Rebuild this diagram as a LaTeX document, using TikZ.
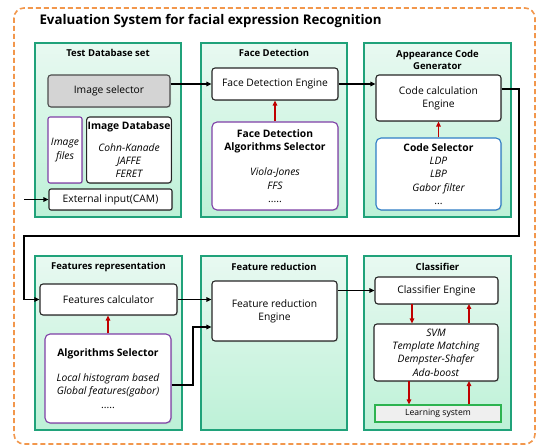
\documentclass[tikz,border=0pt]{standalone}
\usepackage{fontspec}
\setmainfont{Open Sans}
\usetikzlibrary{arrows.meta,shadows,calc}
\definecolor{panelborder}{HTML}{20A27A}
\definecolor{paneltop}{HTML}{E8F9F1}
\definecolor{panelbot}{HTML}{BDF1D7}
\definecolor{outerdash}{HTML}{F2974C}
\definecolor{selgray}{HTML}{D4D4D4}
\definecolor{violet}{HTML}{7E3FA6}
\definecolor{codeblue}{HTML}{2E7DC6}
\definecolor{arrowred}{HTML}{C00000}
\definecolor{lsgreen}{HTML}{2DB350}
\definecolor{lsfill}{HTML}{EFEFEF}
\tikzset{
  panel/.style={draw=panelborder, line width=1.4pt, top color=paneltop, bottom color=panelbot,
    drop shadow={shadow xshift=1.2pt, shadow yshift=-1.2pt, opacity=0.25}},
  paneltitle/.style={font=\fontsize{9.5}{11.5}\selectfont\bfseries, align=center},
  box/.style={draw=black!85, line width=1.1pt, fill=white, rounded corners=3pt, align=center,
    font=\fontsize{10.3}{13.3}\selectfont,
    drop shadow={shadow xshift=1pt, shadow yshift=-1pt, opacity=0.25}},
  graybox/.style={box, fill=selgray, draw=black!70},
  violetbox/.style={box, draw=violet, rounded corners=5pt},
  bluebox/.style={box, draw=codeblue, rounded corners=5pt},
  lsbox/.style={draw=lsgreen, line width=1.1pt, fill=lsfill, font=\fontsize{8.6}{10}\selectfont},
  flow/.style={line width=1.2pt, -{Triangle[length=5pt,width=4.5pt]}},
  redflow/.style={line width=1.3pt, draw=arrowred, -{Triangle[length=5pt,width=4.5pt]}, arrowred},
}
\begin{document}
\begin{tikzpicture}[x=1pt, y=-1pt]
\useasboundingbox (0,0) rectangle (538,446);
% outer frame and heading
\draw[outerdash, line width=1.6pt, dash pattern=on 5pt off 3pt, rounded corners=10pt] (14,8) rectangle (535,444);
\node[anchor=west, font=\fontsize{13.3}{15}\selectfont\bfseries] (heading) at (36,21) {Evaluation System for facial expression Recognition};

% panels
\node[panel, minimum width=146pt, minimum height=174pt] (p1) at (108,130) {};
\node[panel, minimum width=146pt, minimum height=174pt] (p2) at (274,130) {};
\node[panel, minimum width=147pt, minimum height=174pt] (p3) at (437.5,130) {};
\node[panel, minimum width=147pt, minimum height=174pt] (p4) at (108.5,343) {};
\node[panel, minimum width=146pt, minimum height=174pt] (p5) at (274,343) {};
\node[panel, minimum width=147pt, minimum height=174pt] (p6) at (437.5,343) {};

\node[paneltitle] (t1) at (108,53) {Test Database set};
\node[paneltitle] (t2) at (274,53) {Face Detection};
\node[paneltitle] (t3) at (437.5,60) {Appearance Code\\Generator};
\node[paneltitle] (t4) at (108.5,267) {Features representation};
\node[paneltitle] (t5) at (274,267) {Feature reduction};
\node[paneltitle] (t6) at (437.5,267) {Classifier};

% test database set
\node[graybox, minimum width=122pt, minimum height=32pt] (imgsel) at (109,91) {Image selector};
\node[violetbox, rounded corners=2pt, minimum width=34pt, minimum height=66pt, inner sep=1pt] (imgfiles) at (65,150) {\itshape Image\\ \itshape files};
\node[box, minimum width=82pt, minimum height=66pt, inner sep=1pt] (imgdb) at (129,150)
  {\textbf{Image Database}\\[8pt] \itshape Cohn-Kanade\\ \itshape JAFFE\\ \itshape FERET};
\node[box, rounded corners=2pt, minimum width=123pt, minimum height=21pt] (cam) at (110.5,199.5) {External input(CAM)};
\coordinate (camin) at (24,199.5);

% face detection
\node[box, minimum width=126pt, minimum height=32pt] (fde) at (275,84) {Face Detection Engine};
\node[violetbox, minimum width=126pt, minimum height=88pt] (fdsel) at (275,166)
  {\textbf{Face Detection}\\ \textbf{Algorithms Selector}\\[12pt] \itshape Viola-Jones\\ \itshape FFS\\ .....};

% appearance code generator
\node[box, minimum width=125pt, minimum height=46pt] (cce) at (438.5,98) {Code calculation\\Engine};
\node[bluebox, minimum width=125pt, minimum height=72pt, inner sep=1pt] (csel) at (438.5,174)
  {\textbf{Code Selector}\\ \itshape LDP\\ \itshape LBP\\ \itshape Gabor filter\\ ...};

% features representation
\node[box, minimum width=137pt, minimum height=31pt] (fcalc) at (108.5,299.5) {Features calculator};
\node[violetbox, minimum width=126pt, minimum height=89pt] (asel) at (108,378.5)
  {\textbf{Algorithms Selector}\\[12pt] \itshape Local histogram based\\ \itshape Global features(gabor)\\ .....};

% feature reduction
\node[box, minimum width=125pt, minimum height=60pt] (fre) at (274.5,311) {Feature reduction\\Engine};

% classifier
\node[box, minimum width=123pt, minimum height=27pt] (ce) at (436.5,290.5) {Classifier Engine};
\node[box, minimum width=124pt, minimum height=57pt] (svm) at (436,352.5)
  {\itshape SVM\\ \itshape Template Matching\\ \itshape Dempster-Shafer\\ \itshape Ada-boost};
\node[lsbox, minimum width=126pt, minimum height=17pt] (ls) at (438,413.5) {Learning system};

% black data flow
\draw[flow] (camin) -- (cam.west);
\draw[flow] (fde.west -| imgsel.east) -- (fde.west);
\draw[flow] (fde.east) -- (fde.east -| cce.west);
\coordinate (ccout) at ($(cce.east)+(0,-9)$);
\coordinate (rtop) at (519,89);
\coordinate (rbot) at (519,236);
\coordinate (lbot) at (24,236);
\draw[flow] (ccout) -- (rtop) -- (rbot) -- (lbot) |- (fcalc.west);
\draw[flow] (fcalc.east) -- (fcalc.east -| fre.west);
\coordinate (aout) at ($(asel.east)+(0,6.5)$);
\coordinate (ajoin) at (193,327);
\draw[flow] (aout) -| (ajoin) -- (ajoin -| fre.west);
\draw[flow] (ce.west -| fre.east) -- (ce.west);

% red selector links
\draw[redflow] (fdsel.north) -- (fde.south);
\draw[redflow] (csel.north) -- (cce.south);
\draw[redflow] (asel.north) -- (asel.north |- fcalc.south);
\coordinate (cdn) at (412,304);
\coordinate (cup) at (469,304);
\draw[redflow] (cdn) -- (cdn |- svm.north);
\draw[redflow] (cup |- svm.north) -- (cup);
\coordinate (sdn) at (409,381);
\coordinate (sup) at (469,381);
\draw[redflow] (sdn) -- (sdn |- ls.north);
\draw[redflow] (sup |- ls.north) -- (sup);
\end{tikzpicture}
\end{document}
